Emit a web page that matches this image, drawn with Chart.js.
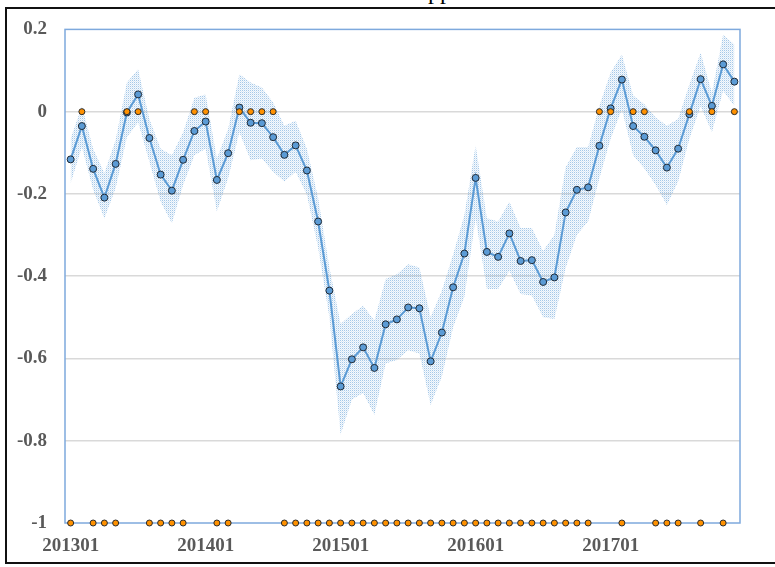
<!DOCTYPE html>
<html>
<head>
<meta charset="utf-8">
<script src="https://cdn.jsdelivr.net/npm/chart.js@4.4.1/dist/chart.umd.min.js"></script>
<style>
  html, body { margin: 0; padding: 0; background: #fff; overflow: hidden; }
  #wrap { position: relative; width: 775px; height: 567px; }
  #frame { position: absolute; left: 5px; top: 7px; width: 820px; height: 557px; border: 2px solid #111; box-sizing: border-box; pointer-events: none; }
  #ttl { position: absolute; left: 428px; top: -21px; font: 24px "Liberation Serif", serif; line-height: 1; color: #000; }
  canvas { position: absolute; left: 0; top: 0; }
</style>
</head>
<body>
<div id="wrap">
  <div id="ttl">pp</div>
  <canvas id="c" width="775" height="567"></canvas>
  <div id="frame"></div>
</div>
<script>
const months = [
  "201301","201302","201303","201304","201305","201306","201307","201308","201309","201310","201311","201312",
  "201401","201402","201403","201404","201405","201406","201407","201408","201409","201410","201411","201412",
  "201501","201502","201503","201504","201505","201506","201507","201508","201509","201510","201511","201512",
  "201601","201602","201603","201604","201605","201606","201607","201608","201609","201610","201611","201612",
  "201701","201702","201703","201704","201705","201706","201707","201708","201709","201710","201711","201712"
];
const tickLabels = ["201301","201401","201501","201601","201701"];
const yTicks = [0.2, 0, -0.2, -0.4, -0.6, -0.8, -1];

const estimate = [
  -0.116,-0.035,-0.139,-0.209,-0.127,-0.002, 0.042,-0.064,-0.153,-0.192,-0.117,-0.047,
  -0.024,-0.166,-0.101, 0.010,-0.027,-0.028,-0.062,-0.105,-0.082,-0.143,-0.267,-0.435,
  -0.668,-0.602,-0.573,-0.623,-0.517,-0.505,-0.476,-0.478,-0.607,-0.537,-0.427,-0.345,
  -0.161,-0.341,-0.353,-0.296,-0.363,-0.361,-0.414,-0.403,-0.245,-0.190,-0.184,-0.083,
   0.008, 0.078,-0.035,-0.061,-0.094,-0.136,-0.090,-0.006, 0.079, 0.014, 0.115, 0.073
];
const upperBound = [
  -0.066, 0.014,-0.090,-0.150,-0.069, 0.071, 0.103,-0.018,-0.090,-0.106,-0.050, 0.034,
   0.042,-0.114,-0.042, 0.091, 0.071, 0.059, 0.022,-0.034,-0.022,-0.090,-0.210,-0.379,
  -0.516,-0.492,-0.472,-0.508,-0.407,-0.395,-0.371,-0.379,-0.500,-0.435,-0.347,-0.251,
  -0.082,-0.259,-0.267,-0.219,-0.283,-0.283,-0.339,-0.299,-0.135,-0.086,-0.086, 0.014,
   0.095, 0.139, 0.039, 0.018,-0.014,-0.034,-0.018, 0.066, 0.143, 0.046, 0.187, 0.163
];
const lowerBound = [
  -0.174,-0.086,-0.190,-0.260,-0.186,-0.062,-0.026,-0.122,-0.219,-0.271,-0.178,-0.106,
  -0.090,-0.243,-0.162,-0.050,-0.118,-0.114,-0.146,-0.170,-0.146,-0.202,-0.331,-0.500,
  -0.785,-0.700,-0.684,-0.737,-0.612,-0.604,-0.580,-0.588,-0.713,-0.644,-0.524,-0.450,
  -0.259,-0.431,-0.431,-0.387,-0.443,-0.447,-0.500,-0.504,-0.380,-0.299,-0.267,-0.162,
  -0.066, 0.006,-0.106,-0.138,-0.178,-0.227,-0.170,-0.066, 0.014,-0.050, 0.051, 0.014
];
const indicator = [
  -1, 0,-1,-1,-1, 0, 0,-1,-1,-1,-1, 0,
   0,-1,-1, 0, 0, 0, 0,-1,-1,-1,-1,-1,
  -1,-1,-1,-1,-1,-1,-1,-1,-1,-1,-1,-1,
  -1,-1,-1,-1,-1,-1,-1,-1,-1,-1,-1, 0,
   0,-1, 0, 0,-1,-1,-1, 0,-1, 0,-1, 0
];

// stipple pattern for the confidence band
function makePattern() {
  const p = document.createElement('canvas');
  p.width = 2; p.height = 2;
  const g = p.getContext('2d');
  g.fillStyle = 'rgba(91,155,213,0.55)'; g.fillRect(0, 0, 1, 1);
  g.fillStyle = 'rgba(91,155,213,0.22)'; g.fillRect(1, 1, 1, 1);
  g.fillStyle = 'rgba(91,155,213,0.06)'; g.fillRect(1, 0, 1, 1); g.fillRect(0, 1, 1, 1);
  return document.getElementById('c').getContext('2d').createPattern(p, 'repeat');
}

const frameBorder = {
  id: 'frameBorder',
  beforeDatasetsDraw(chart) {
    const a = chart.chartArea, ctx = chart.ctx;
    ctx.save();
    ctx.strokeStyle = '#7ea9dd';
    ctx.lineWidth = 1.5;
    ctx.strokeRect(a.left, a.top, a.right - a.left, a.bottom - a.top);
    ctx.restore();
  }
};

const font = { family: '"Liberation Serif", "Times New Roman", serif', size: 19, weight: 'bold' };

new Chart(document.getElementById('c'), {
  type: 'line',
  data: {
    labels: months,
    datasets: [
      {
        label: 'indicator', data: indicator, showLine: false, clip: false,
        pointRadius: 3, pointHoverRadius: 3, pointBackgroundColor: '#ff9100',
        pointBorderColor: '#2b2b2b', pointBorderWidth: 1, borderColor: '#ff9100'
      },
      {
        label: 'estimate', data: estimate, borderColor: '#5b9bd5', borderWidth: 2, clip: false,
        tension: 0, pointRadius: 3.5, pointHoverRadius: 3.5, pointBackgroundColor: '#5b9bd5',
        pointBorderColor: '#1f2a36', pointBorderWidth: 1, fill: false
      },
      {
        label: 'upper', data: upperBound, borderWidth: 0, borderColor: 'rgba(0,0,0,0)',
        pointRadius: 0, tension: 0, fill: '+1', backgroundColor: makePattern()
      },
      {
        label: 'lower', data: lowerBound, borderWidth: 0, borderColor: 'rgba(0,0,0,0)',
        pointRadius: 0, tension: 0, fill: false
      }
    ]
  },
  options: {
    responsive: false,
    animation: false,
    events: [],
    layout: { padding: { top: 27, right: 35, left: 0, bottom: 0 } },
    plugins: { legend: { display: false }, title: { display: false }, tooltip: { enabled: false } },
    scales: {
      x: {
        type: 'category',
        offset: true,
        grid: { display: false, drawTicks: false },
        border: { display: false },
        afterFit(s) { s.height = 44; },
        ticks: {
          autoSkip: false, maxRotation: 0, minRotation: 0, padding: 12,
          color: '#595959', font: font,
          callback(v, i) { const l = months[i]; return tickLabels.includes(l) ? l : null; }
        }
      },
      y: {
        min: -1, max: 0.2,
        afterFit(s) { s.width = 65; },
        afterBuildTicks(s) { s.ticks = yTicks.map(v => ({ value: v })); },
        grid: {
          drawTicks: false,
          color(ctx) { const v = ctx.tick && ctx.tick.value; return (Math.abs(v - 0.2) < 1e-6 || Math.abs(v + 1) < 1e-6) ? 'rgba(0,0,0,0)' : '#d9d9d9'; },
          lineWidth: 1.5
        },
        border: { display: false },
        ticks: {
          padding: 18, color: '#595959', font: font,
          callback(v) { return String(Math.round(v * 10) / 10); }
        }
      }
    }
  },
  plugins: [frameBorder]
});
</script>
</body>
</html>
